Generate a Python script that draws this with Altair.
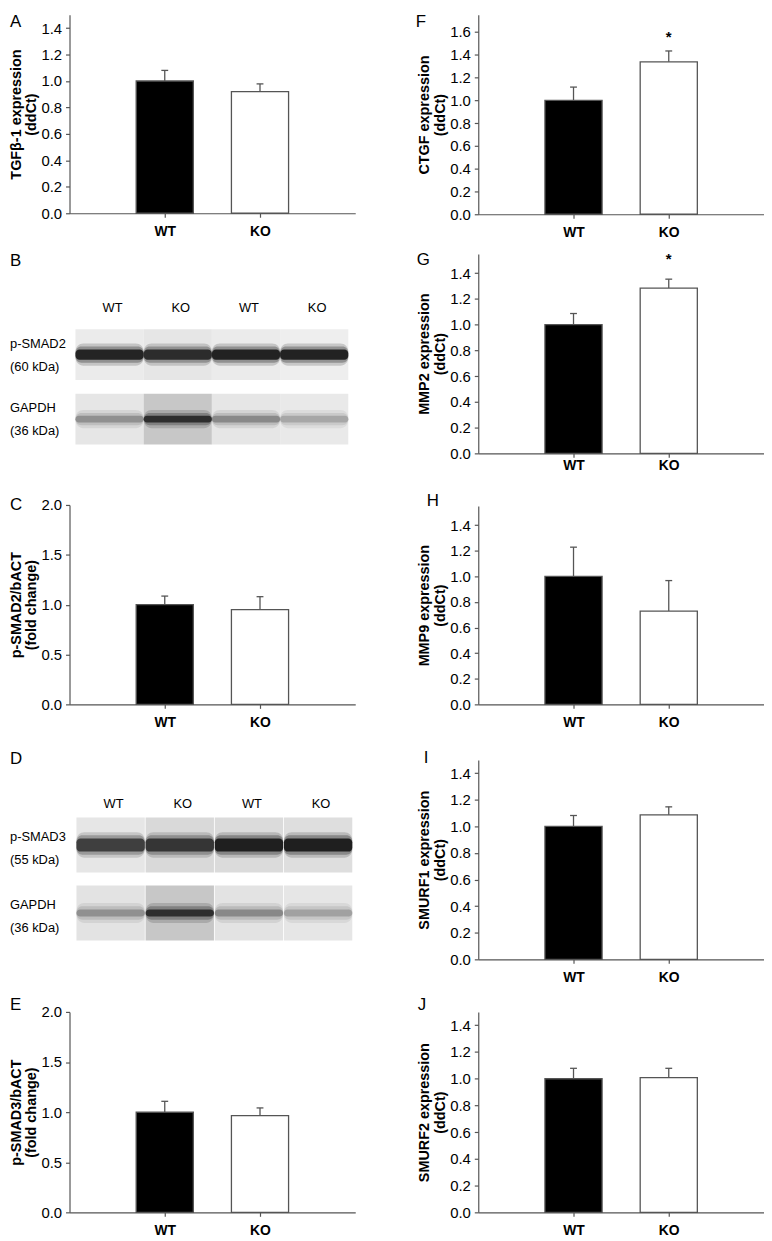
import altair as alt
import pandas as pd

FONT = "Liberation Sans"
AX = "#555555"

groups = ["WT", "KO"]
positions = [1, 2]

# bar panels: mean and SEM
a_mean = [1.00, 0.92]
a_err = [0.08, 0.058]
c_mean = [1.00, 0.95]
c_err = [0.086, 0.13]
e_mean = [1.00, 0.965]
e_err = [0.108, 0.077]
f_mean = [1.00, 1.338]
f_err = [0.116, 0.095]
g_mean = [1.00, 1.285]
g_err = [0.087, 0.069]
h_mean = [1.00, 0.729]
h_err = [0.228, 0.238]
i_mean = [1.00, 1.087]
i_err = [0.082, 0.060]
j_mean = [1.00, 1.009]
j_err = [0.078, 0.069]
f_sig = ["", "*"]
g_sig = ["", "*"]

# western blot panels (band darkness 0..1)
lanes = ["WT", "KO", "WT", "KO"]
b_rows = ["p-SMAD2", "GAPDH"]
b_kda = ["(60 kDa)", "(36 kDa)"]
b_band = [[0.95, 0.90, 0.96, 0.96], [0.42, 0.88, 0.45, 0.32]]
b_bg = [[0.04, 0.06, 0.04, 0.03], [0.06, 0.18, 0.06, 0.05]]
d_rows = ["p-SMAD3", "GAPDH"]
d_kda = ["(55 kDa)", "(36 kDa)"]
d_band = [[0.80, 0.85, 0.97, 0.97], [0.42, 0.88, 0.45, 0.35]]
d_bg = [[0.06, 0.11, 0.10, 0.09], [0.07, 0.18, 0.07, 0.06]]

W = 288


def bar_panel(letter, title, mean, err, ymax, step, H, sig=None,
              letter_x=-60, letter_y=0, letter_base="top", label_pad=7, star_dy=-14):
    df = pd.DataFrame({"group": groups, "pos": positions, "mean": mean, "err": err,
                       "sig": sig if sig else ["", ""]})
    n = int(round(ymax / step + 1e-9))
    vals = [round(k * step, 3) for k in range(n + 1) if k * step <= ymax + 1e-9]
    base = alt.Chart(df).transform_calculate(
        x0="datum.pos - 0.3", x1="datum.pos + 0.3", top="datum.mean + datum.err",
        cl="datum.pos - 0.036", cr="datum.pos + 0.036")
    xs = alt.Scale(domain=[0, 3], nice=False, zero=False)
    ys = alt.Scale(domain=[0, ymax], nice=False, zero=True)
    xax = alt.Axis(
        values=[1, 2], labelExpr="datum.value == 1 ? 'WT' : 'KO'", title=None, grid=False,
        domainColor=AX, domainWidth=1.2, tickColor=AX, tickSize=4, tickWidth=1.2,
        labelFont=FONT, labelFontSize=14, labelFontWeight="bold", labelColor="#000",
        labelPadding=label_pad, labelOverlap=False)
    yax = alt.Axis(
        values=vals, format=".1f", title=title, grid=False, labelOverlap=False,
        labelFlush=False,
        domainColor=AX, domainWidth=1.2, tickColor=AX, tickSize=4, tickWidth=1.2,
        labelFont=FONT, labelFontSize=15, labelColor="#000", labelPadding=4,
        titleFont=FONT, titleFontSize=14.5, titleFontWeight="bold", titleColor="#000",
        titlePadding=2, titleLineHeight=16)
    bars = base.mark_rect(stroke=AX, strokeWidth=1.3).encode(
        x=alt.X("x0:Q", scale=xs, axis=xax),
        x2="x1:Q",
        y=alt.Y("mean:Q", scale=ys, axis=yax),
        y2=alt.datum(0),
        fill=alt.Color("group:N", scale=alt.Scale(domain=groups, range=["#000000", "#ffffff"]),
                       legend=None),
    )
    stem = base.mark_rule(color=AX, strokeWidth=1.3).encode(
        x=alt.X("pos:Q", scale=xs, axis=xax), y=alt.Y("mean:Q", scale=ys, axis=yax),
        y2="top:Q")
    cap = base.mark_rule(color=AX, strokeWidth=1.3).encode(
        x=alt.X("cl:Q", scale=xs, axis=xax), x2="cr:Q",
        y=alt.Y("top:Q", scale=ys, axis=yax))
    star = base.mark_text(font=FONT, fontSize=15, fontWeight="bold", dy=star_dy).encode(
        x=alt.X("pos:Q", scale=xs, axis=xax), y=alt.Y("top:Q", scale=ys, axis=yax),
        text="sig:N")
    lab = alt.Chart(pd.DataFrame({"t": [letter]})).mark_text(
        font=FONT, fontSize=17, align="left", baseline=letter_base, color="#000").encode(
        x=alt.value(letter_x), y=alt.value(letter_y), text="t:N")
    return alt.layer(bars, stem, cap, star, lab).properties(width=W, height=H)


def blot_panel(letter, rows, kdas, band, bg, core_h, glow_h, H, xrange, pad_x, pad_y,
               letter_y, lane_y, dy_top, dy_bot):
    recs = []
    for r, row in enumerate(rows):
        for k, ln in enumerate(lanes):
            recs.append({"row": row, "kda": kdas[r], "lane": k, "laneLabel": ln,
                         "band": band[r][k], "bg": bg[r][k]})
    df = pd.DataFrame(recs)
    xs = alt.Scale(domain=list(range(4)), range=xrange, paddingInner=pad_x, paddingOuter=0)
    ys = alt.Scale(domain=rows, paddingInner=pad_y, paddingOuter=0)
    gs = alt.Scale(domain=[0, 1], range=["#f6f6f6", "#0d0d0d"])
    base = alt.Chart(df)
    enc = dict(x=alt.X("lane:O", scale=xs, axis=None), y=alt.Y("row:N", scale=ys, axis=None))
    bgl = base.mark_rect().encode(fill=alt.Color("bg:Q", scale=gs, legend=None), **enc)
    layers = [bgl]
    for r, row in enumerate(rows):
        sub = base.transform_filter(alt.datum.row == row)
        layers.append(sub.mark_rect(height={"band": glow_h[r]}, opacity=0.18,
                                    cornerRadius=8).encode(
            fill=alt.Color("band:Q", scale=gs, legend=None), **enc))
        layers.append(sub.mark_rect(height={"band": (glow_h[r] + core_h[r]) / 2},
                                    opacity=0.3, cornerRadius=6).encode(
            fill=alt.Color("band:Q", scale=gs, legend=None), **enc))
        layers.append(sub.mark_rect(height={"band": core_h[r]}, cornerRadius=4,
                                    opacity=0.9).encode(
            fill=alt.Color("band:Q", scale=gs, legend=None), **enc))
    first = base.transform_filter(alt.datum.row == rows[0])
    layers.append(first.mark_text(font=FONT, fontSize=13, color="#000", dx=3).encode(
        x=alt.X("lane:O", scale=xs, axis=None), y=alt.value(lane_y), text="laneLabel:N"))
    rowlab = base.transform_filter(alt.datum.lane == 0)
    layers.append(rowlab.mark_text(font=FONT, fontSize=13, align="left", dy=dy_top,
                                   color="#000").encode(
        x=alt.value(-60), y=alt.Y("row:N", scale=ys, axis=None), text="row:N"))
    layers.append(rowlab.mark_text(font=FONT, fontSize=13, align="left", dy=dy_bot,
                                   color="#000").encode(
        x=alt.value(-60), y=alt.Y("row:N", scale=ys, axis=None), text="kda:N"))
    layers.append(alt.Chart(pd.DataFrame({"t": [letter]})).mark_text(
        font=FONT, fontSize=17, align="left", baseline="middle", color="#000").encode(
        x=alt.value(-60), y=alt.value(letter_y), text="t:N"))
    return alt.layer(*layers).properties(width=W, height=H)


def spacer(h):
    return alt.Chart(pd.DataFrame({"a": [0]})).mark_point(opacity=0).encode(
        x=alt.value(0), y=alt.value(0)).properties(width=W, height=h)


A = bar_panel("A", ["TGFβ-1 expression", "(ddCt)"], a_mean, a_err, 1.5, 0.2, 200,
              letter_y=-1, label_pad=7)
B = blot_panel("B", b_rows, b_kda, b_band, b_bg, [0.2, 0.13], [0.44, 0.36], 116, [6, 281], 0.0,
               0.215, -69, -21, -11, 12)
C = bar_panel("C", ["p-SMAD2/bACT", "(fold change)"], c_mean, c_err, 2.0, 0.5, 201,
              letter_y=0, letter_base="middle", label_pad=7)
D = blot_panel("D", d_rows, d_kda, d_band, d_bg, [0.24, 0.13], [0.46, 0.36], 124, [7, 285], 0.012,
               0.19, -59, -14, -8, 15)
E = bar_panel("E", ["p-SMAD3/bACT", "(fold change)"], e_mean, e_err, 2.0, 0.5, 202,
              letter_y=-7, letter_base="middle", label_pad=7)

F = bar_panel("F", ["CTGF expression", "(ddCt)"], f_mean, f_err, 1.75, 0.2, 201, sig=f_sig,
              letter_x=-63, letter_y=-1, label_pad=7, star_dy=-14)
G = bar_panel("G", ["MMP2 expression", "(ddCt)"], g_mean, g_err, 1.55, 0.2, 201, sig=g_sig,
              letter_x=-62, letter_y=6, letter_base="middle", label_pad=1, star_dy=-20)
Hh = bar_panel("H", ["MMP9 expression", "(ddCt)"], h_mean, h_err, 1.55, 0.2, 200,
               letter_x=-52, letter_y=-5, letter_base="middle", label_pad=7)
I = bar_panel("I", ["SMURF1 expression", "(ddCt)"], i_mean, i_err, 1.5, 0.2, 201,
              letter_x=-55, letter_y=-2, letter_base="middle", label_pad=7)
J = bar_panel("J", ["SMURF2 expression", "(ddCt)"], j_mean, j_err, 1.5, 0.2, 202,
              letter_x=-61, letter_y=-7, letter_base="middle", label_pad=7)

left = alt.vconcat(A, spacer(117), B, spacer(61), C, spacer(114), D, spacer(72), E,
                   spacing=0, bounds="flush")
right = alt.vconcat(F, spacer(40), G, spacer(53), Hh, spacer(56), I, spacer(53), J,
                    spacing=0, bounds="flush")

chart = alt.hconcat(left, right, spacing=412, bounds="flush").properties(
    padding=0).configure_view(stroke=None)

chart.save("out.html", embed_options={"renderer": "svg", "actions": False})
